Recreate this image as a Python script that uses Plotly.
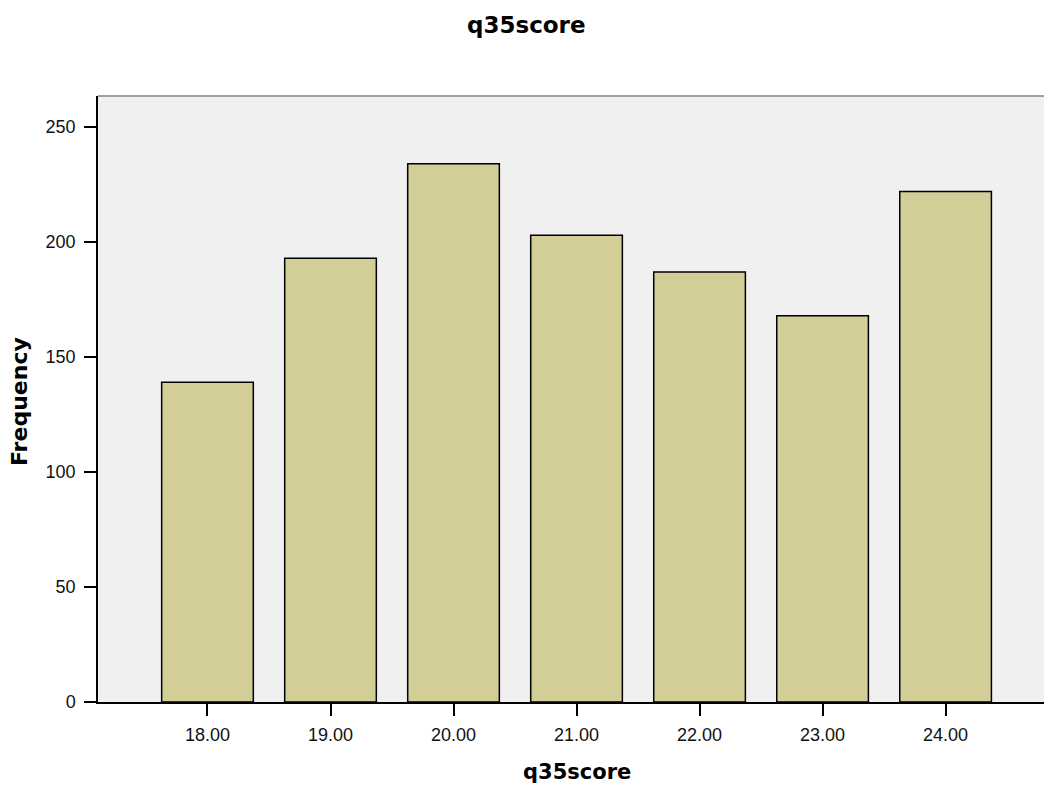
import plotly.graph_objects as go

scores = [18, 19, 20, 21, 22, 23, 24]
tick_labels = ["18.00", "19.00", "20.00", "21.00", "22.00", "23.00", "24.00"]
frequency = [139, 193, 234, 203, 187, 168, 222]
y_ticks = [0, 50, 100, 150, 200, 250]

W, H = 1044, 790
L, R, T, B = 98, 0, 96, 88
plot_w = W - L - R
plot_h = H - T - B

fig = go.Figure()
fig.add_trace(go.Bar(
    x=scores, y=frequency, width=0.745,
    marker=dict(color="#d3ce97", line=dict(color="#000000", width=1.5)),
    hoverinfo="x+y",
))

reg_font = "Liberation Sans, Arial, sans-serif"
bold_font = "DejaVu Sans, Verdana, sans-serif"
fig.update_layout(
    width=W, height=H,
    margin=dict(l=L, r=R, t=T, b=B),
    paper_bgcolor="white", plot_bgcolor="#f0f0f0",
    showlegend=False,
    font=dict(family=reg_font, size=18, color="#111"),
)
fig.update_xaxes(
    range=[17.11, 24.80], tickvals=scores, ticktext=tick_labels,
    showline=True, linecolor="#000", linewidth=1.5,
    ticks="outside", ticklen=12, tickcolor="#000", tickwidth=1.5,
    ticklabelstandoff=4,
    showgrid=False, zeroline=False,
    tickfont=dict(family=reg_font, size=18, color="#111"),
)
fig.update_yaxes(
    range=[0, 263.5], tickvals=y_ticks,
    showline=True, linecolor="#000", linewidth=1.5,
    ticks="outside", ticklen=12, tickcolor="#000", tickwidth=1.5,
    ticklabelstandoff=5,
    showgrid=False, zeroline=False,
    tickfont=dict(family=reg_font, size=18, color="#111"),
)
# chart title
fig.add_annotation(
    x=(526 - L) / plot_w, xref="paper", y=1 + (T - 25) / plot_h,
    yref="paper", text="<b>q35score</b>", showarrow=False,
    xanchor="center", yanchor="middle",
    font=dict(family=bold_font, size=23, color="#000"),
)
# x axis title
fig.add_annotation(
    x=21, xref="x", y=-(772 - (H - B)) / plot_h, yref="paper",
    text="<b>q35score</b>", showarrow=False, xanchor="center", yanchor="middle",
    font=dict(family=bold_font, size=21, color="#000"),
)
# y axis title
fig.add_annotation(
    x=-(L - 19) / plot_w, xref="paper", y=1 - (402 - T) / plot_h, yref="paper",
    text="<b>Frequency</b>", showarrow=False, textangle=-90,
    xanchor="center", yanchor="middle",
    font=dict(family=bold_font, size=22, color="#000"),
)
fig.add_shape(type="line", xref="paper", yref="paper", x0=0, x1=1, y0=1, y1=1,
              line=dict(color="#a0a0a0", width=2))

fig.write_html("out.html", config={"displayModeBar": False},
               post_script="document.body.style.margin='0';")
